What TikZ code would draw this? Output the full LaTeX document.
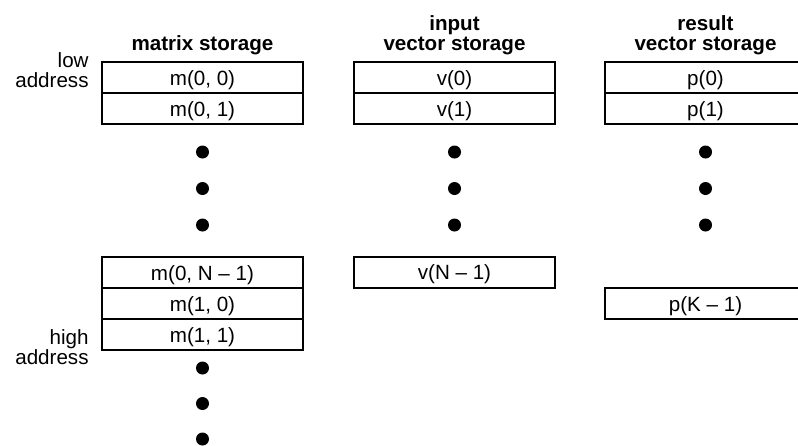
\documentclass[tikz,border=0pt]{standalone}
\usepackage{fontspec}
\setmainfont{Liberation Sans}
\usetikzlibrary{positioning}
\tikzstyle{cell} = [rectangle, minimum width=100.5pt, minimum height=15.5pt, inner sep=0pt, text height=7.6pt, text depth=0pt, text centered, draw=black, line width=1pt]
\tikzstyle{dot} = [circle, fill=black, inner sep=0pt, minimum size=6.5pt]
\tikzstyle{head} = [align=center, font=\fontsize{10.3}{10}\selectfont\bfseries]
\tikzstyle{side} = [align=right, anchor=east, inner sep=0pt]

\begin{document}
\begin{tikzpicture}[x=0.5pt, y=-0.5pt, node distance=15.5pt, font=\fontsize{10.3}{10}\selectfont]
        \useasboundingbox (0,0) rectangle (798,445);

        % Titulos
        \node (tmat) [head] at (202.5,45) {matrix storage};
        \node (tin) [head] at (454.5,35) {input\\vector storage};
        \node (tres) [head] at (705.5,35) {result\\vector storage};
        \node (low) [side] at (89,70) {low\\address};
        \node (high) [side] at (89,347.5) {high\\address};

        % Matriz
        \node (m00) [cell] at (202.5,77.5) {m(0, 0)};
        \node (m01) [cell, below of=m00] {m(0, 1)};
        \node (md1) [dot] at (202.5,152) {};
        \node (md2) [dot] at (202.5,188.5) {};
        \node (md3) [dot] at (202.5,225) {};
        \node (m0n) [cell] at (202.5,272.5) {m(0, N \textendash\ 1)};
        \node (m10) [cell, below of=m0n] {m(1, 0)};
        \node (m11) [cell, below of=m10] {m(1, 1)};
        \node (md4) [dot] at (202.5,368) {};
        \node (md5) [dot] at (202.5,403.5) {};
        \node (md6) [dot] at (202.5,439) {};

        % Vetor de entrada
        \node (v0) [cell] at (454.5,77.5) {v(0)};
        \node (v1) [cell, below of=v0] {v(1)};
        \node (vd1) [dot] at (454.5,152) {};
        \node (vd2) [dot] at (454.5,188.5) {};
        \node (vd3) [dot] at (454.5,225) {};
        \node (vn) [cell] at (454.5,272) {v(N \textendash\ 1)};

        % Vetor resultado
        \node (p0) [cell] at (705.5,77.5) {p(0)};
        \node (p1) [cell, below of=p0] {p(1)};
        \node (pd1) [dot] at (705.5,152) {};
        \node (pd2) [dot] at (705.5,188.5) {};
        \node (pd3) [dot] at (705.5,225) {};
        \node (pk) [cell] at (705.5,303.5) {p(K \textendash\ 1)};
    \end{tikzpicture}
\end{document}
